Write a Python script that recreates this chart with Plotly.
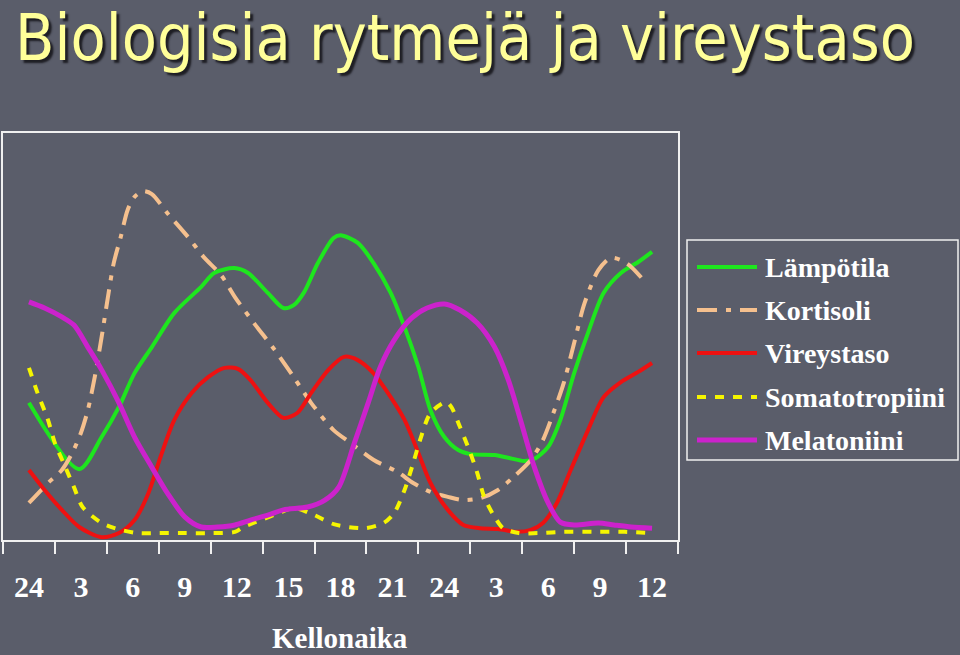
import plotly.graph_objects as go

# ---------------- data (hours from midnight of day 1; values on 0-100 relative scale) -------------
tick_hours = [0, 3, 6, 9, 12, 15, 18, 21, 24, 27, 30, 33, 36]
tick_labels = ["24", "3", "6", "9", "12", "15", "18", "21", "24", "3", "6", "9", "12"]
boundary_hours = [-1.5 + 3 * k for k in range(14)]

temp_h = [0, 2.9, 4.2, 5.2, 6.1, 7.1, 8.4, 9.95, 10.7, 11.86, 12.66, 13.8, 14.7, 15.3, 15.9, 16.7,
          17.6, 18.0, 19.0, 19.9, 20.9, 21.7, 22.5, 23.2, 24.0, 24.8, 25.5, 26.9, 27.8, 28.6, 29.2,
          30.0, 30.7, 31.5, 32.3, 33.2, 34.2, 35.2, 36.0]
temp_v = [33.7, 17.4, 25.3, 32.7, 41.0, 47.4, 55.8, 62.2, 65.6, 66.8, 65.6, 60.7, 57.0, 57.7, 60.9,
          68.1, 74.2, 74.9, 73.0, 68.1, 60.7, 52.3, 42.5, 31.9, 25.3, 22.1, 21.1, 20.9, 20.1, 19.4,
          19.9, 22.9, 29.5, 41.0, 50.9, 60.7, 65.6, 68.3, 70.8]

kort_h = [0, 1.1, 1.9, 2.5, 3.0, 3.4, 3.8, 4.2, 4.6, 4.9, 5.3, 5.7, 6.1, 6.6, 7.1, 8.0, 9.2, 10.1,
          11.1, 11.9, 13.0, 14.2, 15.3, 16.3, 17.6, 18.6, 19.9, 21.3, 22.2, 23.2, 24.2, 25.1, 26.1,
          27.1, 28.0, 29.0, 29.7, 30.3, 30.9, 31.5, 32.1, 32.9, 33.6, 34.2, 34.8, 35.5]
kort_v = [9.1, 14.0, 17.2, 21.4, 26.3, 31.9, 40.0, 49.9, 60.7, 68.1, 74.4, 81.1, 84.3, 85.7, 85.0,
          80.3, 74.4, 69.5, 65.1, 59.7, 53.3, 46.7, 40.0, 33.7, 27.0, 23.8, 19.7, 16.7, 14.0, 11.8,
          10.6, 9.8, 10.3, 12.3, 15.5, 19.7, 24.6, 31.2, 38.6, 48.4, 58.2, 66.3, 69.3, 68.8, 67.1, 63.9]

vire_h = [0, 0.9, 1.9, 2.9, 4.2, 5.2, 6.1, 6.9, 7.6, 8.4, 9.4, 10.35, 11.3, 12.1, 12.8, 13.8, 14.7,
          15.5, 16.3, 17.3, 18.2, 19.0, 19.9, 20.9, 21.7, 22.5, 23.2, 24.2, 25.1, 26.1, 27.1, 28.2,
          29.0, 29.7, 30.5, 31.3, 32.3, 33.2, 34.2, 35.2, 36.0]
vire_v = [17.2, 12.3, 7.4, 3.2, 0.7, 1.7, 4.9, 11.5, 20.4, 29.5, 36.1, 40.0, 42.3, 42.0, 39.3, 33.7,
          30.0, 31.2, 36.1, 41.8, 45.0, 44.2, 41.0, 35.1, 29.5, 21.4, 14.0, 7.4, 3.7, 2.9, 2.7, 2.0,
          2.5, 4.2, 9.1, 17.2, 27.0, 35.1, 38.8, 41.3, 43.5]

soma_h = [0, 0.5, 1.1, 1.5, 2.0, 2.6, 3.1, 4.2, 5.3, 6.3, 7.5, 8.8, 10.5, 11.9, 12.4, 13.4, 14.6,
          15.3, 16.5, 17.6, 19.4, 20.5, 21.1, 21.7, 22.2, 22.6, 23.2, 24.1, 24.4, 24.9, 25.5, 25.9,
          26.3, 26.9, 27.4, 28.3, 29.4, 30.9, 32.9, 34.4, 35.9]
soma_v = [42.3, 36.1, 29.5, 23.8, 18.9, 13.0, 8.1, 4.2, 2.5, 1.7, 1.7, 1.7, 1.7, 2.0, 3.2, 4.9, 6.9,
          7.9, 6.1, 3.9, 2.9, 4.2, 6.6, 12.3, 18.9, 24.6, 31.2, 33.9, 32.7, 27.8, 21.4, 16.5, 10.6,
          5.7, 2.9, 1.7, 1.7, 2.0, 2.0, 2.0, 1.7]

mela_h = [0, 0.9, 1.9, 2.6, 3.4, 4.2, 5.2, 6.1, 7.1, 8.0, 9.0, 9.95, 10.9, 11.9, 12.8, 13.8, 14.7,
          16.1, 17.1, 17.9, 18.8, 19.6, 20.3, 21.1, 22.1, 23.0, 24.0, 24.9, 25.9, 26.9, 27.7, 28.4,
          29.2, 30.0, 30.7, 31.5, 32.9, 33.8, 34.8, 36.0]
mela_v = [58.5, 57.0, 54.8, 52.8, 47.4, 41.8, 33.7, 25.3, 17.9, 11.5, 5.7, 3.2, 3.2, 3.7, 4.9, 6.1,
          7.4, 8.1, 9.8, 13.0, 23.8, 33.7, 42.5, 49.1, 54.5, 57.0, 58.0, 56.5, 53.3, 47.4, 39.3, 29.5,
          17.9, 9.1, 4.4, 3.7, 4.2, 3.7, 3.2, 2.9]

series_names = ["Lämpötila", "Kortisoli", "Vireystaso", "Somatotropiini", "Melatoniini"]
series_x = [temp_h, kort_h, vire_h, soma_h, mela_h]
series_y = [temp_v, kort_v, vire_v, soma_v, mela_v]
series_colors = ["#1ee61e", "#f5c08e", "#ee1111", "#f5f500", "#cc22cc"]
series_dash = ["solid", "20px,9px,5px,9px", "solid", "9px,9px", "solid"]
series_width = [4, 4, 4, 4, 5]

# ---------------- layout geometry -------------------------------------------------------------------
W, H = 960, 655
L, R, T, B = 3, 282, 133, 115
PW, PH = W - L - R, H - T - B
BG = "#5a5d6a"
SERIF = "Liberation Serif, Times New Roman, serif"


def px2x(px):
    return (px - L) / PW


def px2y(py):
    return (H - B - py) / PH


fig = go.Figure()
for name, xs, ys, col, dash, wd in zip(series_names, series_x, series_y, series_colors,
                                        series_dash, series_width):
    fig.add_trace(go.Scatter(x=xs, y=ys, mode="lines", name=name,
                             line=dict(color=col, width=wd, dash=dash, shape="spline", smoothing=0.8),
                             showlegend=False, hoverinfo="skip"))

shapes = []
annotations = []

# custom legend box (drawn like the original: long sample lines)
shapes.append(dict(type="rect", xref="paper", yref="paper",
                   x0=px2x(687), x1=px2x(958), y0=px2y(460), y1=px2y(240),
                   line=dict(color="#f0f0f0", width=1.5), fillcolor=BG, layer="below"))
leg_y = [267, 310, 353, 397, 440]
for name, col, dash, wd, ly in zip(series_names, series_colors, series_dash, series_width, leg_y):
    shapes.append(dict(type="line", xref="paper", yref="paper",
                       x0=px2x(697), x1=px2x(757), y0=px2y(ly), y1=px2y(ly),
                       line=dict(color=col, width=wd, dash=dash)))
    annotations.append(dict(text="<b>" + name + "</b>", xref="paper", yref="paper",
                            x=px2x(763), y=px2y(ly), xanchor="left", yanchor="middle",
                            showarrow=False, font=dict(family=SERIF, size=28, color="white")))

# title
annotations.append(dict(text="Biologisia rytmejä ja vireystaso", xref="paper", yref="paper",
                        x=px2x(14), y=px2y(0), xanchor="left", yanchor="top", showarrow=False,
                        borderpad=0,
                        font=dict(family="DejaVu Sans Condensed, DejaVu Sans, sans-serif",
                                  size=64, color="#ffff99", shadow="3px 3px 2px #1e1e24")))
# axis title
annotations.append(dict(text="<b>Kellonaika</b>", xref="paper", yref="paper",
                        x=px2x(340), y=px2y(638), xanchor="center", yanchor="middle",
                        showarrow=False, font=dict(family=SERIF, size=29, color="white")))

fig.update_layout(
    width=W, height=H,
    margin=dict(l=L, r=R, t=T, b=B, pad=0),
    paper_bgcolor=BG, plot_bgcolor=BG,
    shapes=shapes, annotations=annotations,
    showlegend=False,
    xaxis=dict(range=[-1.5, 37.5], tickmode="array", tickvals=tick_hours,
               ticktext=["<b>" + t + "</b>" for t in tick_labels],
               ticks="", showgrid=False, zeroline=False,
               showline=True, linecolor="#f0f0f0", linewidth=2, mirror=True,
               ticklabelstandoff=19,
               tickfont=dict(family=SERIF, size=30, color="white"),
               minor=dict(tickmode="array", tickvals=boundary_hours, ticks="outside",
                          ticklen=12, tickwidth=2, tickcolor="#f0f0f0", showgrid=False)),
    yaxis=dict(range=[0, 100], showticklabels=False, ticks="", showgrid=False, zeroline=False,
               showline=True, linecolor="#f0f0f0", linewidth=2, mirror=True),
)

fig.write_html("out.html")
